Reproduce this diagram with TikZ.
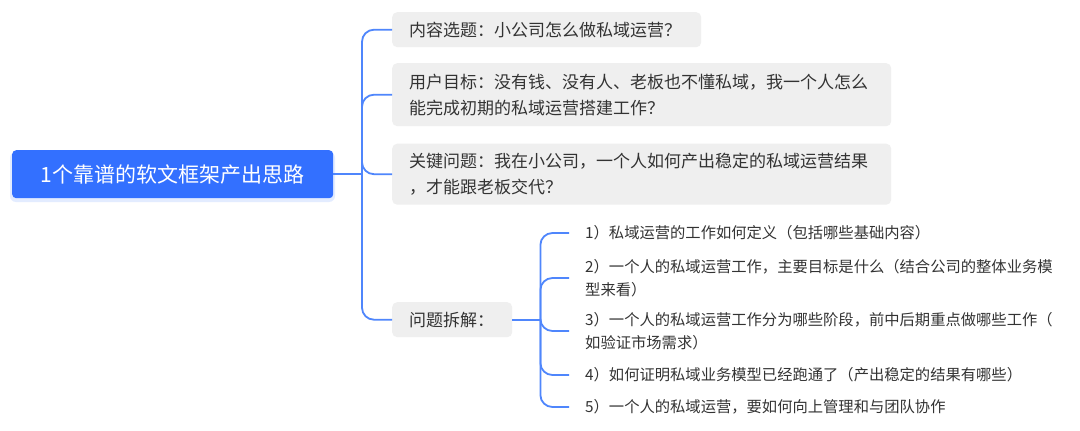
\documentclass[tikz,border=0pt]{standalone}
\usepackage{fontspec}
\setmainfont{Noto Sans CJK SC}
\definecolor{rootblue}{HTML}{3370FF}
\definecolor{linkblue}{HTML}{4F86FC}
\definecolor{boxgray}{HTML}{EFEFEF}
\definecolor{txt}{HTML}{333333}
\definecolor{glow}{HTML}{E3ECFF}
\begin{document}
\begin{tikzpicture}[x=1pt,y=-1pt,
  rootbox/.style={fill=rootblue, rounded corners=4pt, text=white,
    font=\fontsize{21}{26}\selectfont, minimum width=321pt, minimum height=48pt,
    inner sep=0pt, anchor=north west},
  childbox/.style={fill=boxgray, rounded corners=5pt, text=txt,
    font=\fontsize{17}{26}\selectfont, align=left, inner xsep=17pt,
    inner ysep=0pt, anchor=north west},
  leaf/.style={text=txt, font=\fontsize{15.3}{23}\selectfont, align=left,
    inner xsep=16pt, inner ysep=2pt, anchor=west},
  conn/.style={draw=linkblue, line width=1.8pt, rounded corners=12pt}]
\useasboundingbox[fill=white] (0,0) rectangle (1080,431);

% soft glow under the root
\fill[glow, rounded corners=6pt] (10,152) rectangle (335,202);
\node[rootbox] (r) at (12,150) {1个靠谱的软文框架产出思路};

\node[childbox, text width=275pt, minimum height=35pt] (c1) at (392,12)
  {内容选题：小公司怎么做私域运营？};
\node[childbox, text width=465pt, minimum height=63pt] (c2) at (392,63)
  {用户目标：没有钱、没有人、老板也不懂私域，我一个人怎么\\能完成初期的私域运营搭建工作？};
\node[childbox, text width=465pt, minimum height=61pt] (c3) at (392,143.5)
  {关键问题：我在小公司，一个人如何产出稳定的私域运营结果\\，才能跟老板交代？};
\node[childbox, text width=86pt, minimum height=35pt] (c4) at (392,302)
  {问题拆解：};

\node[leaf] (l1) at (569,233) {1）私域运营的工作如何定义（包括哪些基础内容）};
\node[leaf] (l2) at (569,278) {2）一个人的私域运营工作，主要目标是什么（结合公司的整体业务模\\型来看）};
\node[leaf] (l3) at (569,331) {3）一个人的私域运营工作分为哪些阶段，前中后期重点做哪些工作（\\如验证市场需求）};
\node[leaf] (l4) at (569,375) {4）如何证明私域业务模型已经跑通了（产出稳定的结果有哪些）};
\node[leaf] (l5) at (569,407) {5）一个人的私域运营，要如何向上管理和与团队协作};

\coordinate (j1) at ([xshift=-30pt]c3.west);
\coordinate (j2) at ([xshift=28pt]c4.east);

\draw[conn, rounded corners=0pt] (j1 -| r.east) -- (j1);
\foreach \c in {c1,c2,c3,c4} \draw[conn] (j1) |- (\c.west);

\draw[conn, rounded corners=0pt] (c4.east) -- (j2);
\foreach \l in {l1,l2,l3,l4,l5} \draw[conn] (j2) |- (\l.west);
\end{tikzpicture}
\end{document}
